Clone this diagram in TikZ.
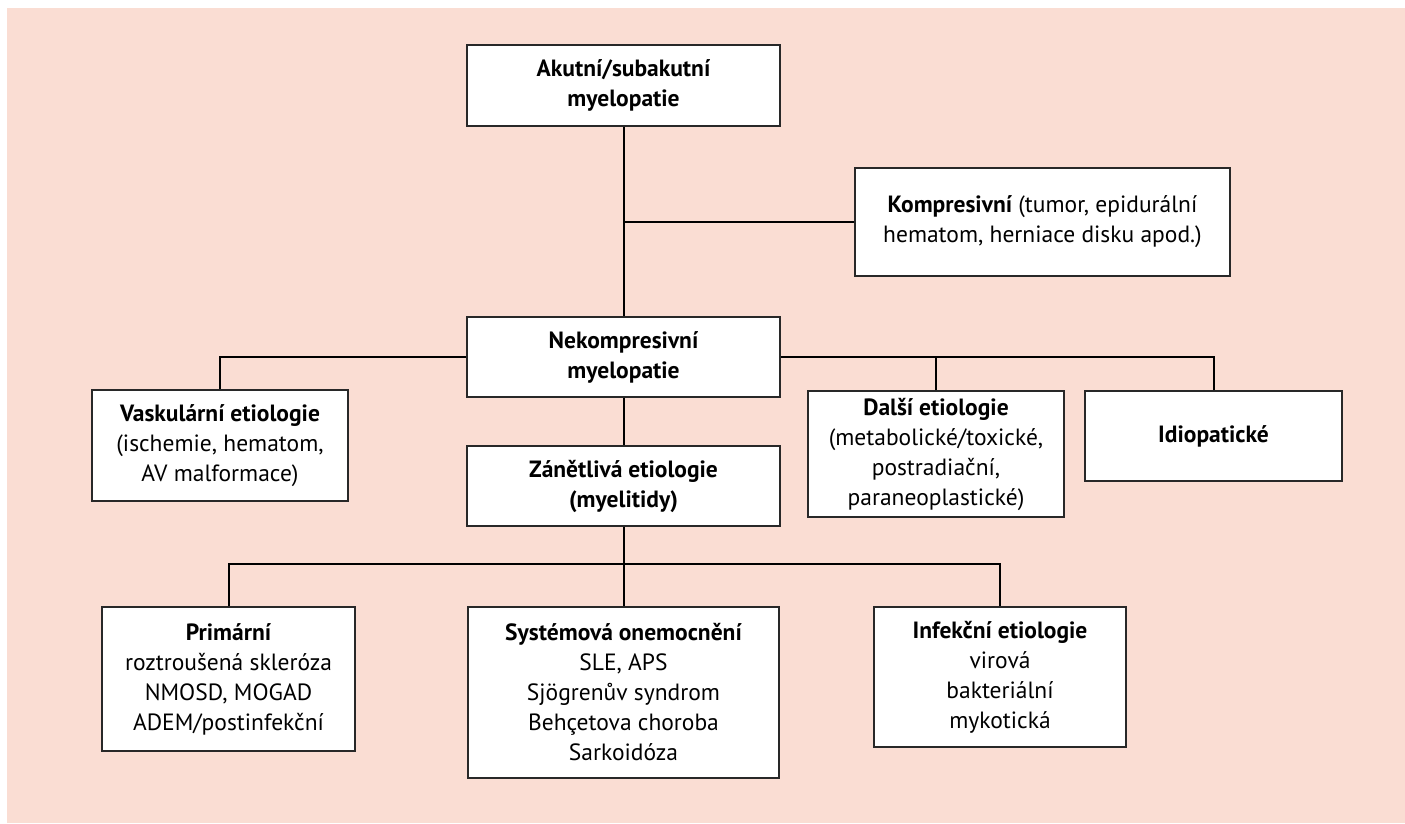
\documentclass[tikz,border=0pt]{standalone}
\usepackage{fontspec}
\setmainfont{PT Sans}
\definecolor{bgpink}{RGB}{250,221,211}
\definecolor{boxline}{RGB}{40,40,40}
\begin{document}
\begin{tikzpicture}[x=1pt,y=1pt,
  box/.style={draw=boxline,line width=1.3pt,fill=white,rectangle,align=center,
    inner sep=0pt,font=\fontsize{23.5}{30}\selectfont},
  conn/.style={draw=black,line width=2pt}]
\useasboundingbox (0,0) rectangle (1405,-823);
\fill[bgpink] (7,-8) rectangle (1405,-823);
\node[box,minimum width=313,minimum height=81] (top) at (623.5,-85.5) {\textbf{Akutní/subakutní}\\\textbf{myelopatie}};
\node[box,minimum width=375,minimum height=108] (komp) at (1042.5,-222) {\textbf{Kompresivní} (tumor, epidurální\\hematom, herniace disku apod.)};
\node[box,minimum width=313,minimum height=80] (nekomp) at (623.5,-357) {\textbf{Nekompresivní}\\\textbf{myelopatie}};
\node[box,minimum width=256,minimum height=111] (vask) at (220,-445.5) {\textbf{Vaskulární etiologie}\\(ischemie, hematom,\\AV malformace)};
\node[box,minimum width=256,minimum height=126] (dalsi) at (936,-454) {\textbf{Další etiologie}\\(metabolické/toxické,\\postradiační,\\paraneoplastické)};
\node[box,minimum width=257,minimum height=90] (idio) at (1213.5,-436) {\textbf{Idiopatické}};
\node[box,minimum width=313,minimum height=80] (zan) at (623.5,-486) {\textbf{Zánětlivá etiologie}\\\textbf{(myelitidy)}};
\node[box,minimum width=253,minimum height=144] (prim) at (228.5,-679) {\textbf{Primární}\\roztroušená skleróza\\NMOSD, MOGAD\\ADEM/postinfekční};
\node[box,minimum width=311,minimum height=171] (sys) at (623.5,-692.5) {\textbf{Systémová onemocnění}\\SLE, APS\\Sjögrenův syndrom\\Behçetova choroba\\Sarkoidóza};
\node[box,minimum width=252,minimum height=140] (inf) at (1000,-677) {\textbf{Infekční etiologie}\\virová\\bakteriální\\mykotická};
\coordinate (bar) at (623.5,-564);
\draw[conn] (top.south) -- (nekomp.north);
\draw[conn] (komp.west) -- (komp.west -| top.south);
\draw[conn] (vask.north) |- (nekomp.west);
\draw[conn] (dalsi.north) |- (nekomp.east);
\draw[conn] (idio.north) |- (nekomp.east);
\draw[conn] (nekomp.south) -- (zan.north);
\draw[conn] (zan.south) -- (sys.north);
\draw[conn] (prim.north) |- (bar) -| (inf.north);
\end{tikzpicture}
\end{document}
